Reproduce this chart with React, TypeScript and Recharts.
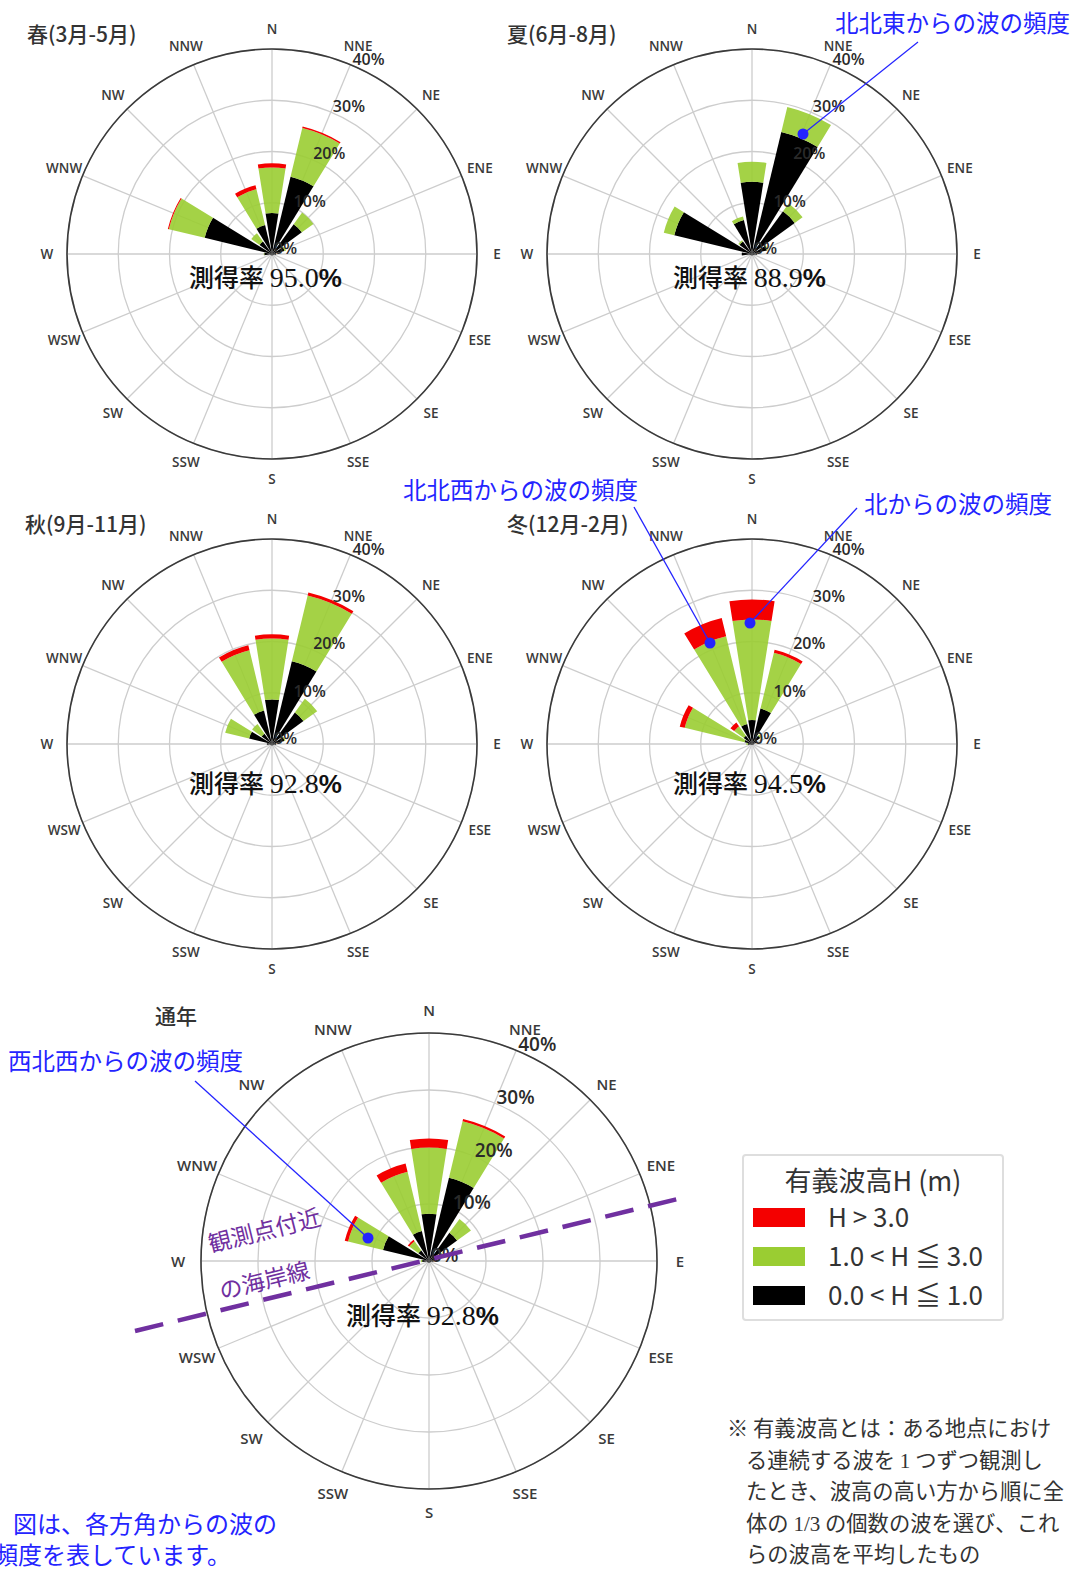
import React from 'react';
import { RadialBarChart, RadialBar, PolarAngleAxis, PolarRadiusAxis, PolarGrid } from 'recharts';

// 16方位（北から時計回り）
const directions = ['N', 'NNE', 'NE', 'ENE', 'E', 'ESE', 'SE', 'SSE', 'S', 'SSW', 'SW', 'WSW', 'W', 'WNW', 'NW', 'NNW'];
const directionDeg = [0, 22.5, 45, 67.5, 90, 112.5, 135, 157.5, 180, 202.5, 225, 247.5, 270, 292.5, 315, 337.5];
const radiusTicks = [0, 10, 20, 30, 40];

// 頻度(%)  low: 0.0<H≦1.0, mid: 1.0<H≦3.0, high: H>3.0
const springLow = [8.0, 15.5, 7.2, 2.5, 0.8, 0.4, 0.3, 0.3, 0.3, 0.3, 0.3, 0.4, 1.5, 13.5, 3.0, 5.8];
const springMid = [8.9, 9.8, 2.8, 0.3, 0, 0, 0, 0, 0, 0, 0, 0, 0.1, 7.2, 2.0, 7.2];
const springHigh = [0.8, 0.3, 0, 0, 0, 0, 0, 0, 0, 0, 0, 0, 0, 0.2, 0, 0.8];

const summerLow = [14.1, 24.5, 10.3, 3.0, 1.0, 0.5, 0.3, 0.3, 0.3, 0.3, 0.3, 0.5, 2.0, 15.6, 3.0, 6.8];
const summerMid = [3.9, 5.0, 1.9, 0.2, 0, 0, 0, 0, 0, 0, 0, 0, 0, 2.1, 0.3, 0.7];
const summerHigh = [0, 0, 0, 0, 0, 0, 0, 0, 0, 0, 0, 0, 0, 0, 0, 0];

const autumnLow = [8.7, 16.6, 7.6, 2.5, 0.8, 0.4, 0.3, 0.3, 0.3, 0.3, 0.3, 0.4, 1.0, 4.6, 2.5, 6.7];
const autumnMid = [11.9, 13.2, 3.3, 0.2, 0, 0, 0, 0, 0, 0, 0, 0, 0, 4.8, 2.3, 12.1];
const autumnHigh = [0.8, 0.6, 0, 0, 0, 0, 0, 0, 0, 0, 0, 0, 0, 0, 0, 1.0];

const winterLow = [4.7, 7.1, 2.0, 1.0, 0.4, 0.3, 0.2, 0.2, 0.2, 0.2, 0.2, 0.3, 0.8, 1.5, 2.0, 4.0];
const winterMid = [19.6, 11.2, 0.3, 0, 0, 0, 0, 0, 0, 0, 0, 0, 0.3, 12.0, 2.3, 17.6];
const winterHigh = [3.9, 0.6, 0, 0, 0, 0, 0, 0, 0, 0, 0, 0, 0, 1.0, 0.9, 3.7];

const annualLow = [8.3, 15.0, 6.1, 2.5, 0.8, 0.4, 0.3, 0.3, 0.3, 0.3, 0.3, 0.4, 1.2, 8.3, 2.3, 5.4];
const annualMid = [11.6, 10.2, 3.0, 0.2, 0, 0, 0, 0, 0, 0, 0, 0, 0.2, 6.3, 2.0, 10.7];
const annualHigh = [1.6, 0.4, 0, 0, 0, 0, 0, 0, 0, 0, 0, 0, 0, 0.6, 0.3, 1.5];

const seasonTitles = ['春(3月-5月)', '夏(6月-8月)', '秋(9月-11月)', '冬(12月-2月)', '通年'];
const captureRates = ['95.0', '88.9', '92.8', '94.5', '92.8'];

const legendLabels = ['H > 3.0', '1.0 < H ≦ 3.0', '0.0 < H ≦ 1.0'];
const COLORS = { high: '#f40000', mid: '#9acd32', low: '#000000' };

const sans = '"Noto Sans CJK JP", "Noto Sans", sans-serif';
const serif = '"Liberation Serif", "DejaVu Serif", serif';
const blue = '#2424ff';
const purple = '#7030a0';

// ラベル用の角度軸は [11.25, 371.25] の範囲なので、北は 360 として置く
const labelTicks = directionDeg.map((d) => (d < 11.25 ? d + 360 : d));

const DirTick = (props: any) => {
  const { x, y, payload, fontSize } = props;
  const idx = directionDeg.indexOf(Number(payload.value) % 360);
  return (
    <text x={x} y={y} textAnchor="middle" dominantBaseline="central" fontSize={fontSize} fill="#3a3a3a" fontWeight={600} fontFamily='"Open Sans", sans-serif'>
      {directions[idx]}
    </text>
  );
};

const PctTick = (props: any) => {
  const { x, y, payload, fontSize } = props;
  return (
    <text x={x + 2} y={y - 6} textAnchor="start" dominantBaseline="central" fontSize={fontSize} fill="#2a2a2a" fontWeight={600} fontFamily='"Open Sans", sans-serif'>
      {payload.value}%
    </text>
  );
};

interface RoseProps {
  low: number[];
  mid: number[];
  high: number[];
  left: number;
  top: number;
  size: number;
  radius: number;
  labelGap: number;
  dirFont: number;
  pctFont: number;
}

const Rose = ({ low, mid, high, left, top, size, radius, labelGap, dirFont, pctFont }: RoseProps) => {
  const rows = directions.map((d, i) => ({ dir: d, deg: labelTicks[i], low: low[i], mid: mid[i], high: high[i] }));
  return (
    <div style={{ position: 'absolute', left, top, width: size, height: size }}>
      <RadialBarChart
        width={size}
        height={size}
        data={rows}
        layout="centric"
        cx={size / 2}
        cy={size / 2}
        innerRadius={0}
        outerRadius={radius}
        startAngle={78.75}
        endAngle={-281.25}
        barCategoryGap="10%"
        margin={{ top: 0, right: 0, bottom: 0, left: 0 }}
      >
        <PolarGrid angleAxisId="lab" gridType="circle" stroke="#cdcdcd" strokeWidth={1.3} />
        <PolarAngleAxis angleAxisId={0} dataKey="dir" type="category" tick={false} axisLine={false} tickLine={false} />
        <PolarAngleAxis
          angleAxisId="lab"
          dataKey="deg"
          type="number"
          domain={[11.25, 371.25]}
          allowDataOverflow
          ticks={labelTicks}
          tick={(p: any) => <DirTick {...p} fontSize={dirFont} />}
          tickLine={false}
          tickSize={labelGap}
          axisLineType="circle"
          axisLine={{ stroke: '#3a3a3a', strokeWidth: 1.6 }}
        />
        <PolarRadiusAxis
          angle={67.5}
          type="number"
          domain={[0, 40]}
          ticks={radiusTicks}
          tick={(p: any) => <PctTick {...p} fontSize={pctFont} />}
          axisLine={false}
          tickLine={false}
        />
        <RadialBar dataKey="low" stackId="s" fill={COLORS.low} isAnimationActive={false} />
        <RadialBar dataKey="mid" stackId="s" fill={COLORS.mid} fillOpacity={0.9} isAnimationActive={false} />
        <RadialBar dataKey="high" stackId="s" fill={COLORS.high} isAnimationActive={false} />
      </RadialBarChart>
    </div>
  );
};

const Rate = ({ x, y, value }: { x: number; y: number; value: string }) => (
  <text x={x} y={y + 9} fill="#111">
    <tspan fontFamily={sans} fontSize={25} fontWeight={500}>測得率 </tspan>
    <tspan fontFamily={serif} fontSize={28}>{value}</tspan>
    <tspan fontFamily='"Liberation Sans", sans-serif' fontSize={26} fontWeight={700}>%</tspan>
  </text>
);

const Callout = ({ x1, y1, x2, y2 }: { x1: number; y1: number; x2: number; y2: number }) => (
  <g>
    <line x1={x1} y1={y1} x2={x2} y2={y2} stroke={blue} strokeWidth={1.3} />
    <circle cx={x2} cy={y2} r={5.5} fill={blue} />
  </g>
);

export default function App() {
  const seasonal = { size: 500, radius: 205, labelGap: 20, dirFont: 13.5, pctFont: 16 };
  return (
    <div style={{ position: 'absolute', left: 0, top: 0, width: 1078, height: 1569, overflow: 'hidden', background: '#fff' }}>
      <Rose low={springLow} mid={springMid} high={springHigh} left={22} top={4} {...seasonal} />
      <Rose low={summerLow} mid={summerMid} high={summerHigh} left={502} top={4} {...seasonal} />
      <Rose low={autumnLow} mid={autumnMid} high={autumnHigh} left={22} top={494} {...seasonal} />
      <Rose low={winterLow} mid={winterMid} high={winterHigh} left={502} top={494} {...seasonal} />
      <Rose low={annualLow} mid={annualMid} high={annualHigh} left={149} top={981} size={560} radius={228} labelGap={23} dirFont={15} pctFont={19} />

      {/* 凡例 */}
      <div
        style={{
          position: 'absolute', left: 742, top: 1154, width: 258, height: 163,
          border: '2px solid #dedede', borderRadius: 4, fontFamily: sans, color: '#333',
        }}
      >
        <div style={{ position: 'absolute', left: 0, width: 258, top: 4, textAlign: 'center', fontSize: 27 }}>有義波高H (m)</div>
        {legendLabels.map((t, i) => (
          <div key={t}>
            <div
              style={{
                position: 'absolute', left: 9, top: 52 + i * 39, width: 52, height: 19,
                background: [COLORS.high, COLORS.mid, COLORS.low][i],
              }}
            />
            <div style={{ position: 'absolute', left: 84, top: 42 + i * 39, fontSize: 26, lineHeight: '36px', whiteSpace: 'nowrap' }}>{t}</div>
          </div>
        ))}
      </div>

      <svg width={1078} height={1569} style={{ position: 'absolute', left: 0, top: 0, pointerEvents: 'none' }}>
        {/* タイトル */}
        <g fontFamily={sans} fontSize={21} fill="#333" fontWeight={500}>
          <text x={27} y={33} dominantBaseline="central">{seasonTitles[0]}</text>
          <text x={507} y={33} dominantBaseline="central">{seasonTitles[1]}</text>
          <text x={25} y={523} dominantBaseline="central">{seasonTitles[2]}</text>
          <text x={507} y={523} dominantBaseline="central">{seasonTitles[3]}</text>
          <text x={155} y={1015} dominantBaseline="central">{seasonTitles[4]}</text>
        </g>

        {/* 測得率 */}
        <Rate x={189} y={278} value={captureRates[0]} />
        <Rate x={673} y={278} value={captureRates[1]} />
        <Rate x={189} y={784} value={captureRates[2]} />
        <Rate x={673} y={784} value={captureRates[3]} />
        <Rate x={346} y={1316} value={captureRates[4]} />

        {/* 海岸線 */}
        <line x1={135} y1={1331} x2={690} y2={1196} stroke={purple} strokeWidth={4.5} strokeDasharray="29 15" />
        <g fontFamily={sans} fontSize={23} fill={purple}>
          <text x={264} y={1229} textAnchor="middle" dominantBaseline="central" transform="rotate(-14 264 1229)">観測点付近</text>
          <text x={264} y={1279} textAnchor="middle" dominantBaseline="central" transform="rotate(-14 264 1279)">の海岸線</text>
        </g>

        {/* 吹き出し */}
        <g fontFamily={sans} fontSize={23.5} fill={blue}>
          <text x={835} y={22} dominantBaseline="central">北北東からの波の頻度</text>
          <text x={403} y={489} dominantBaseline="central">北北西からの波の頻度</text>
          <text x={864} y={503} dominantBaseline="central">北からの波の頻度</text>
          <text x={8} y={1060} dominantBaseline="central">西北西からの波の頻度</text>
        </g>
        <g fontFamily={sans} fontSize={24} fill={blue}>
          <text x={13} y={1522} dominantBaseline="central">図は、各方角からの波の</text>
          <text x={-6} y={1553} dominantBaseline="central">頻度を表しています。</text>
        </g>
        <Callout x1={918} y1={42} x2={803} y2={134} />
        <Callout x1={634} y1={507} x2={710} y2={643} />
        <Callout x1={857} y1={508} x2={750} y2={623} />
        <Callout x1={195} y1={1081} x2={368} y2={1238} />

        {/* 注記 */}
        <g fontFamily={sans} fontSize={21.3} fill="#333">
          <text x={727} y={1436}>※  有義波高とは：ある地点におけ</text>
          <text x={746} y={1468}>
            る連続する波を <tspan fontFamily={serif} fontSize={21}>1</tspan> つずつ観測し
          </text>
          <text x={746} y={1499}>たとき、波高の高い方から順に全</text>
          <text x={746} y={1531}>
            体の <tspan fontFamily={serif} fontSize={21}>1/3</tspan> の個数の波を選び、これ
          </text>
          <text x={746} y={1562}>らの波高を平均したもの</text>
        </g>
      </svg>
    </div>
  );
}
